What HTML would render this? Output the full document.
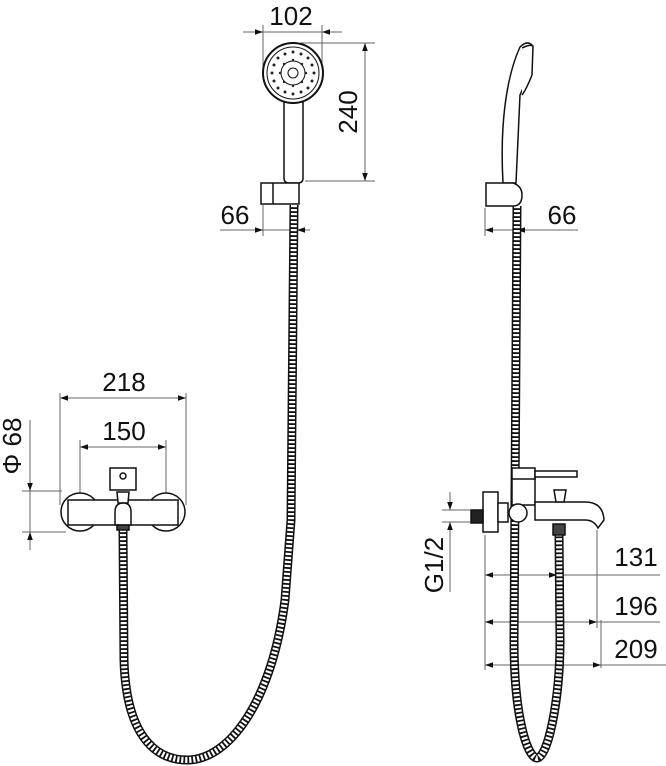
<!DOCTYPE html>
<html><head><style>
html,body{margin:0;padding:0;background:#fff;}
svg{display:block;}
text{font-family:"Liberation Sans",Arial,sans-serif;fill:#111;}
</style></head><body>
<svg width="666" height="766" viewBox="0 0 666 766" xmlns="http://www.w3.org/2000/svg">
<defs>
<marker id="a" viewBox="0 0 10 10" refX="10" refY="5" markerWidth="8" markerHeight="8" orient="auto-start-reverse" markerUnits="userSpaceOnUse"><path d="M0,1.5 L10,5 L0,8.5z" fill="#111"/></marker>
</defs>
<g stroke="#666" stroke-width="1" fill="none">
<line x1="263" y1="25" x2="263" y2="68"/><line x1="322" y1="25" x2="322" y2="68"/>
<line x1="243" y1="32" x2="263" y2="32" marker-end="url(#a)"/>
<line x1="342" y1="32" x2="322" y2="32" marker-end="url(#a)"/>
<line x1="263" y1="32" x2="322" y2="32"/>
<line x1="300" y1="43" x2="375" y2="43"/><line x1="305" y1="181" x2="375" y2="181"/>
<line x1="365" y1="43" x2="365" y2="181" marker-start="url(#a)" marker-end="url(#a)"/>
<line x1="263" y1="205" x2="263" y2="236"/>
<line x1="220" y1="230" x2="300" y2="230"/>
<line x1="245" y1="230" x2="263" y2="230" marker-end="url(#a)"/>
<line x1="310" y1="230" x2="297" y2="230" marker-end="url(#a)"/>
<line x1="485" y1="208" x2="485" y2="236"/>
<line x1="485" y1="230" x2="578" y2="230" marker-start="url(#a)"/>
<line x1="530" y1="230" x2="517" y2="230" marker-end="url(#a)"/>
<line x1="60" y1="393" x2="60" y2="505"/><line x1="186" y1="393" x2="186" y2="505"/>
<line x1="60" y1="398" x2="186" y2="398" marker-start="url(#a)" marker-end="url(#a)"/>
<line x1="80" y1="440" x2="80" y2="520"/><line x1="166" y1="440" x2="166" y2="520"/>
<line x1="80" y1="447" x2="166" y2="447" marker-start="url(#a)" marker-end="url(#a)"/>
<line x1="22" y1="491" x2="62" y2="491"/><line x1="22" y1="532" x2="66" y2="532"/>
<line x1="30" y1="420" x2="30" y2="491" marker-end="url(#a)"/>
<line x1="30" y1="550" x2="30" y2="532" marker-end="url(#a)"/>
<line x1="30" y1="491" x2="30" y2="532"/>
<line x1="442" y1="510" x2="470" y2="510"/><line x1="442" y1="522" x2="470" y2="522"/>
<line x1="450" y1="492" x2="450" y2="510" marker-end="url(#a)"/>
<line x1="450" y1="592" x2="450" y2="522" marker-end="url(#a)"/>
<line x1="485" y1="535" x2="485" y2="670"/>
<line x1="597" y1="530" x2="597" y2="628"/>
<line x1="601" y1="620" x2="601" y2="668"/>
<line x1="485" y1="575" x2="660" y2="575" marker-start="url(#a)"/>
<line x1="545" y1="575" x2="557" y2="575" marker-end="url(#a)"/>
<line x1="485" y1="622" x2="660" y2="622" marker-start="url(#a)"/>
<line x1="585" y1="622" x2="597" y2="622" marker-end="url(#a)"/>
<line x1="485" y1="665" x2="666" y2="665" marker-start="url(#a)"/>
<line x1="589" y1="665" x2="601" y2="665" marker-end="url(#a)"/>
</g>
<g fill="none">
<path d="M123,530 L124,660 C126,735 155,760 187,760 C230,760 272,700 285,600 L291,520 L294,205" stroke="#111" stroke-width="9"/>
<path d="M123,530 L124,660 C126,735 155,760 187,760 C230,760 272,700 285,600 L291,520 L294,205" stroke="#fff" stroke-width="6" stroke-dasharray="2.2 1.8"/>
<path d="M517,206 L514,640 C514,720 528,758 537,758 C548,758 560,700 560,640 L559,535" stroke="#111" stroke-width="9"/>
<path d="M517,206 L514,640 C514,720 528,758 537,758 C548,758 560,700 560,640 L559,535" stroke="#fff" stroke-width="6" stroke-dasharray="2.2 1.8"/>
</g>
<g stroke="#111" stroke-width="1.5" fill="#fff">
<path d="M284,102 L284,178 Q284,183 289,183 L298,183 Q303,183 303,178 L303,102 Z"/>
<circle cx="293" cy="73" r="30" stroke-width="2"/>
<circle cx="293" cy="73" r="26" stroke-width="1"/>
<circle cx="293" cy="73" r="12" stroke-width="1"/>
<circle cx="293" cy="73" r="5" stroke-width="1"/>
<g fill="#222" stroke="none">
<circle cx="293" cy="52" r="1.5"/><circle cx="293" cy="94" r="1.5"/><circle cx="272" cy="73" r="1.5"/><circle cx="314" cy="73" r="1.5"/>
<circle cx="278" cy="58" r="1.5"/><circle cx="308" cy="58" r="1.5"/><circle cx="278" cy="88" r="1.5"/><circle cx="308" cy="88" r="1.5"/>
<circle cx="285" cy="54" r="1.5"/><circle cx="301" cy="54" r="1.5"/><circle cx="285" cy="92" r="1.5"/><circle cx="301" cy="92" r="1.5"/>
<circle cx="274" cy="65" r="1.5"/><circle cx="312" cy="65" r="1.5"/><circle cx="274" cy="81" r="1.5"/><circle cx="312" cy="81" r="1.5"/>
<circle cx="293" cy="60" r="1.2"/><circle cx="293" cy="86" r="1.2"/><circle cx="280" cy="73" r="1.2"/><circle cx="306" cy="73" r="1.2"/>
<circle cx="284" cy="64" r="1.2"/><circle cx="302" cy="64" r="1.2"/><circle cx="284" cy="82" r="1.2"/><circle cx="302" cy="82" r="1.2"/>
</g>
<rect x="261" y="183" width="38" height="21"/>
<line x1="273" y1="183" x2="273" y2="204"/>
<path d="M503,183 C500,130 505,80 520,47 Q527,40 532,45 L529,75 L520,95 L516,183 Z"/>
<path d="M522,48 Q530,44 533,46 L532,75 Q526,90 522,95"/>
<path d="M486,183 L513,183 Q522,186 522,195 Q522,206 513,206 L486,206 Z"/>
<circle cx="80" cy="512" r="19"/><circle cx="166" cy="512" r="19"/>
<rect x="68" y="500" width="110" height="25"/>
<rect x="110" y="468" width="26" height="22"/>
<circle cx="123" cy="476" r="3"/>
<path d="M117,492 L129,492 L128,503 L118,503 Z"/>
<path d="M115,525 L115,512 Q115,503 123,503 Q131,503 131,512 L131,525 Z"/>
<rect x="117" y="525" width="12" height="5" fill="#444"/>
<rect x="483" y="492" width="15" height="40"/>
<rect x="471" y="510" width="12" height="13" fill="#222"/>
<rect x="498" y="503" width="10" height="19"/>
<path d="M512,468 L512,505 L535,505 L535,478 Z"/>
<rect x="512" y="468" width="23" height="11"/>
<rect x="535" y="471" width="42" height="6"/>
<path d="M535,502 L585,502 Q603,502 604,520 L598,528 Q594,520 585,520 L535,520 Z"/>
<path d="M554,490 L566,490 L564,502 L556,502 Z"/>
<circle cx="518" cy="513" r="9"/>
<rect x="553" y="524" width="12" height="11" fill="#444"/>
</g>
<g font-size="26">
<text x="291" y="25" text-anchor="middle">102</text>
<text x="235" y="224" text-anchor="middle">66</text>
<text x="562" y="224" text-anchor="middle">66</text>
<text x="124" y="391" text-anchor="middle">218</text>
<text x="124" y="440" text-anchor="middle">150</text>
<text x="636" y="566" text-anchor="middle">131</text>
<text x="636" y="615" text-anchor="middle">196</text>
<text x="636" y="658" text-anchor="middle">209</text>
<text transform="translate(357,112) rotate(-90)" text-anchor="middle">240</text>
<text transform="translate(21,446) rotate(-90)" text-anchor="middle">Φ 68</text>
<text transform="translate(443,565) rotate(-90)" text-anchor="middle">G1/2</text>
</g>
</svg>
</body></html>
